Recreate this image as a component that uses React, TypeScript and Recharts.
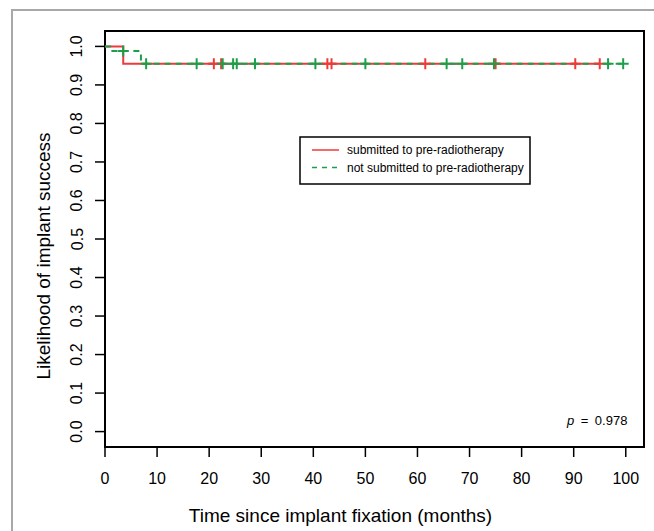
import React from 'react';
import { ComposedChart, Line, Scatter, XAxis, YAxis, ReferenceArea } from 'recharts';

// Kaplan–Meier step curves (time in months, survival probability)
const redTimes = [0, 3.5, 95];
const redSurv = [1, 0.955, 0.955];
const greenTimes = [0, 1, 6.9, 99.5];
const greenSurv = [1, 0.988, 0.955, 0.955];

// Censoring marks
const redCensorTimes = [20.9, 22.3, 42.7, 43.5, 61.5, 75.0, 90.3, 95.0];
const redCensorSurv = [0.955, 0.955, 0.955, 0.955, 0.955, 0.955, 0.955, 0.955];
const greenCensorTimes = [3.5, 7.9, 17.6, 22.6, 24.6, 25.3, 28.8, 40.4, 50.0, 65.6, 68.6, 74.7, 96.6, 99.5];
const greenCensorSurv = [0.988, 0.955, 0.955, 0.955, 0.955, 0.955, 0.955, 0.955, 0.955, 0.955, 0.955, 0.955, 0.955, 0.955];

const xTicks = [0, 10, 20, 30, 40, 50, 60, 70, 80, 90, 100];
const yTicks = [0, 0.1, 0.2, 0.3, 0.4, 0.5, 0.6, 0.7, 0.8, 0.9, 1.0];
const xDomain = [0, 103.5];
const yDomain = [-0.04, 1.04];

const xTitle = 'Time since implant fixation (months)';
const yTitle = 'Likelihood of implant success';
const seriesNames = ['submitted to pre-radiotherapy', 'not submitted to pre-radiotherapy'];
const pValueLabel = '0.978';

const RED = '#f03a3a';
const GREEN = '#1f9e4a';
const FONT = '"Liberation Sans", Arial, Helvetica, sans-serif';

const zip = (ts: number[], ss: number[]) => ts.map((t, i) => ({ t, s: ss[i] }));
const redData = zip(redTimes, redSurv);
const greenData = zip(greenTimes, greenSurv);
const redCensor = zip(redCensorTimes, redCensorSurv);
const greenCensor = zip(greenCensorTimes, greenCensorSurv);

const plusShape = (color: string) => (props: any) => {
  const { cx, cy } = props;
  const h = 5.5;
  return (
    <g>
      <line x1={cx} x2={cx} y1={cy - h} y2={cy + h} stroke={color} strokeWidth={2} />
      <line x1={cx - h} x2={cx + h} y1={cy} y2={cy} stroke={color} strokeWidth={2} />
    </g>
  );
};

const YTick = (props: any) => {
  const { x, y, payload } = props;
  const cx = x - 16;
  return (
    <text
      x={cx}
      y={y}
      transform={`rotate(-90, ${cx}, ${y})`}
      textAnchor="middle"
      dominantBaseline="central"
      fontSize={16}
      fontFamily={FONT}
      fill="#000"
    >
      {Number(payload.value).toFixed(1)}
    </text>
  );
};

const XTitle = (props: any) => {
  const vb = props.viewBox || {};
  const cx = vb.x + vb.width / 2 - 34;
  const cy = vb.y + vb.height - 16;
  return (
    <text x={cx} y={cy} textAnchor="middle" dominantBaseline="central" fontSize={19} fontFamily={FONT} fill="#000">
      {xTitle}
    </text>
  );
};

const YTitle = (props: any) => {
  const vb = props.viewBox || {};
  const cx = vb.x + 18;
  const cy = vb.y + vb.height / 2 + 17;
  return (
    <text
      x={cx}
      y={cy}
      transform={`rotate(-90, ${cx}, ${cy})`}
      textAnchor="middle"
      dominantBaseline="central"
      fontSize={19}
      fontFamily={FONT}
      fill="#000"
    >
      {yTitle}
    </text>
  );
};

const LegendBox = () => (
  <svg width={232} height={49} style={{ position: 'absolute', left: 299, top: 136 }}>
    <rect x={1} y={1} width={230} height={47} fill="#fff" stroke="#000" strokeWidth={1.5} />
    <line x1={13} x2={40} y1={14} y2={14} stroke={RED} strokeWidth={1.5} />
    <line x1={13} x2={40} y1={31.5} y2={31.5} stroke={GREEN} strokeWidth={1.5} strokeDasharray="5 5" />
    <text x={48} y={14} dominantBaseline="central" fontSize={12} fontFamily={FONT} fill="#000">
      {seriesNames[0]}
    </text>
    <text x={48} y={32} dominantBaseline="central" fontSize={12} fontFamily={FONT} fill="#000">
      {seriesNames[1]}
    </text>
  </svg>
);

export default function App() {
  return (
    <div style={{ position: 'absolute', left: 0, top: 0, width: 654, height: 531, background: '#fff' }}>
      <div
        style={{
          position: 'absolute',
          left: 11,
          top: 9,
          width: 654 - 11,
          height: 531 - 9,
          boxSizing: 'border-box',
          borderTop: '2px solid #a8a8a8',
          borderLeft: '2px solid #a8a8a8',
        }}
      />
      <div style={{ position: 'absolute', left: 0, top: 0 }}>
        <ComposedChart width={654} height={531} margin={{ top: 31, right: 10, bottom: 0, left: 25 }}>
          <XAxis
            dataKey="t"
            type="number"
            domain={xDomain}
            ticks={xTicks}
            allowDataOverflow
            axisLine={false}
            tickLine={{ stroke: '#000', strokeWidth: 1.5 }}
            tickSize={10}
            tickMargin={16}
            height={84}
            tick={{ fontSize: 16, fontFamily: FONT, fill: '#000' }}
            label={{ content: XTitle } as any}
          />
          <YAxis
            type="number"
            domain={yDomain}
            ticks={yTicks}
            allowDataOverflow
            axisLine={false}
            tickLine={{ stroke: '#000', strokeWidth: 1.5 }}
            tickSize={10}
            tickMargin={2}
            width={80}
            tick={<YTick />}
            label={{ content: YTitle } as any}
          />
          <ReferenceArea
            x1={xDomain[0]}
            x2={xDomain[1]}
            y1={yDomain[0]}
            y2={yDomain[1]}
            fill="none"
            fillOpacity={0}
            stroke="#000"
            strokeWidth={2}
            ifOverflow="extendDomain"
          />
          <Line
            data={redData}
            dataKey="s"
            type="stepAfter"
            stroke={RED}
            strokeWidth={2}
            dot={false}
            activeDot={false}
            isAnimationActive={false}
          />
          <Line
            data={greenData}
            dataKey="s"
            type="stepAfter"
            stroke={GREEN}
            strokeWidth={2}
            strokeDasharray="6 5"
            dot={false}
            activeDot={false}
            isAnimationActive={false}
          />
          <Scatter data={redCensor} dataKey="s" shape={plusShape(RED)} isAnimationActive={false} />
          <Scatter data={greenCensor} dataKey="s" shape={plusShape(GREEN)} isAnimationActive={false} />
        </ComposedChart>
      </div>
      <LegendBox />
      <div
        style={{
          position: 'absolute',
          left: 567,
          top: 413,
          fontFamily: FONT,
          fontSize: 13,
          color: '#000',
          whiteSpace: 'pre',
        }}
      >
        <i>p</i>
        {'\u2002=\u2002' + pValueLabel}
      </div>
    </div>
  );
}
